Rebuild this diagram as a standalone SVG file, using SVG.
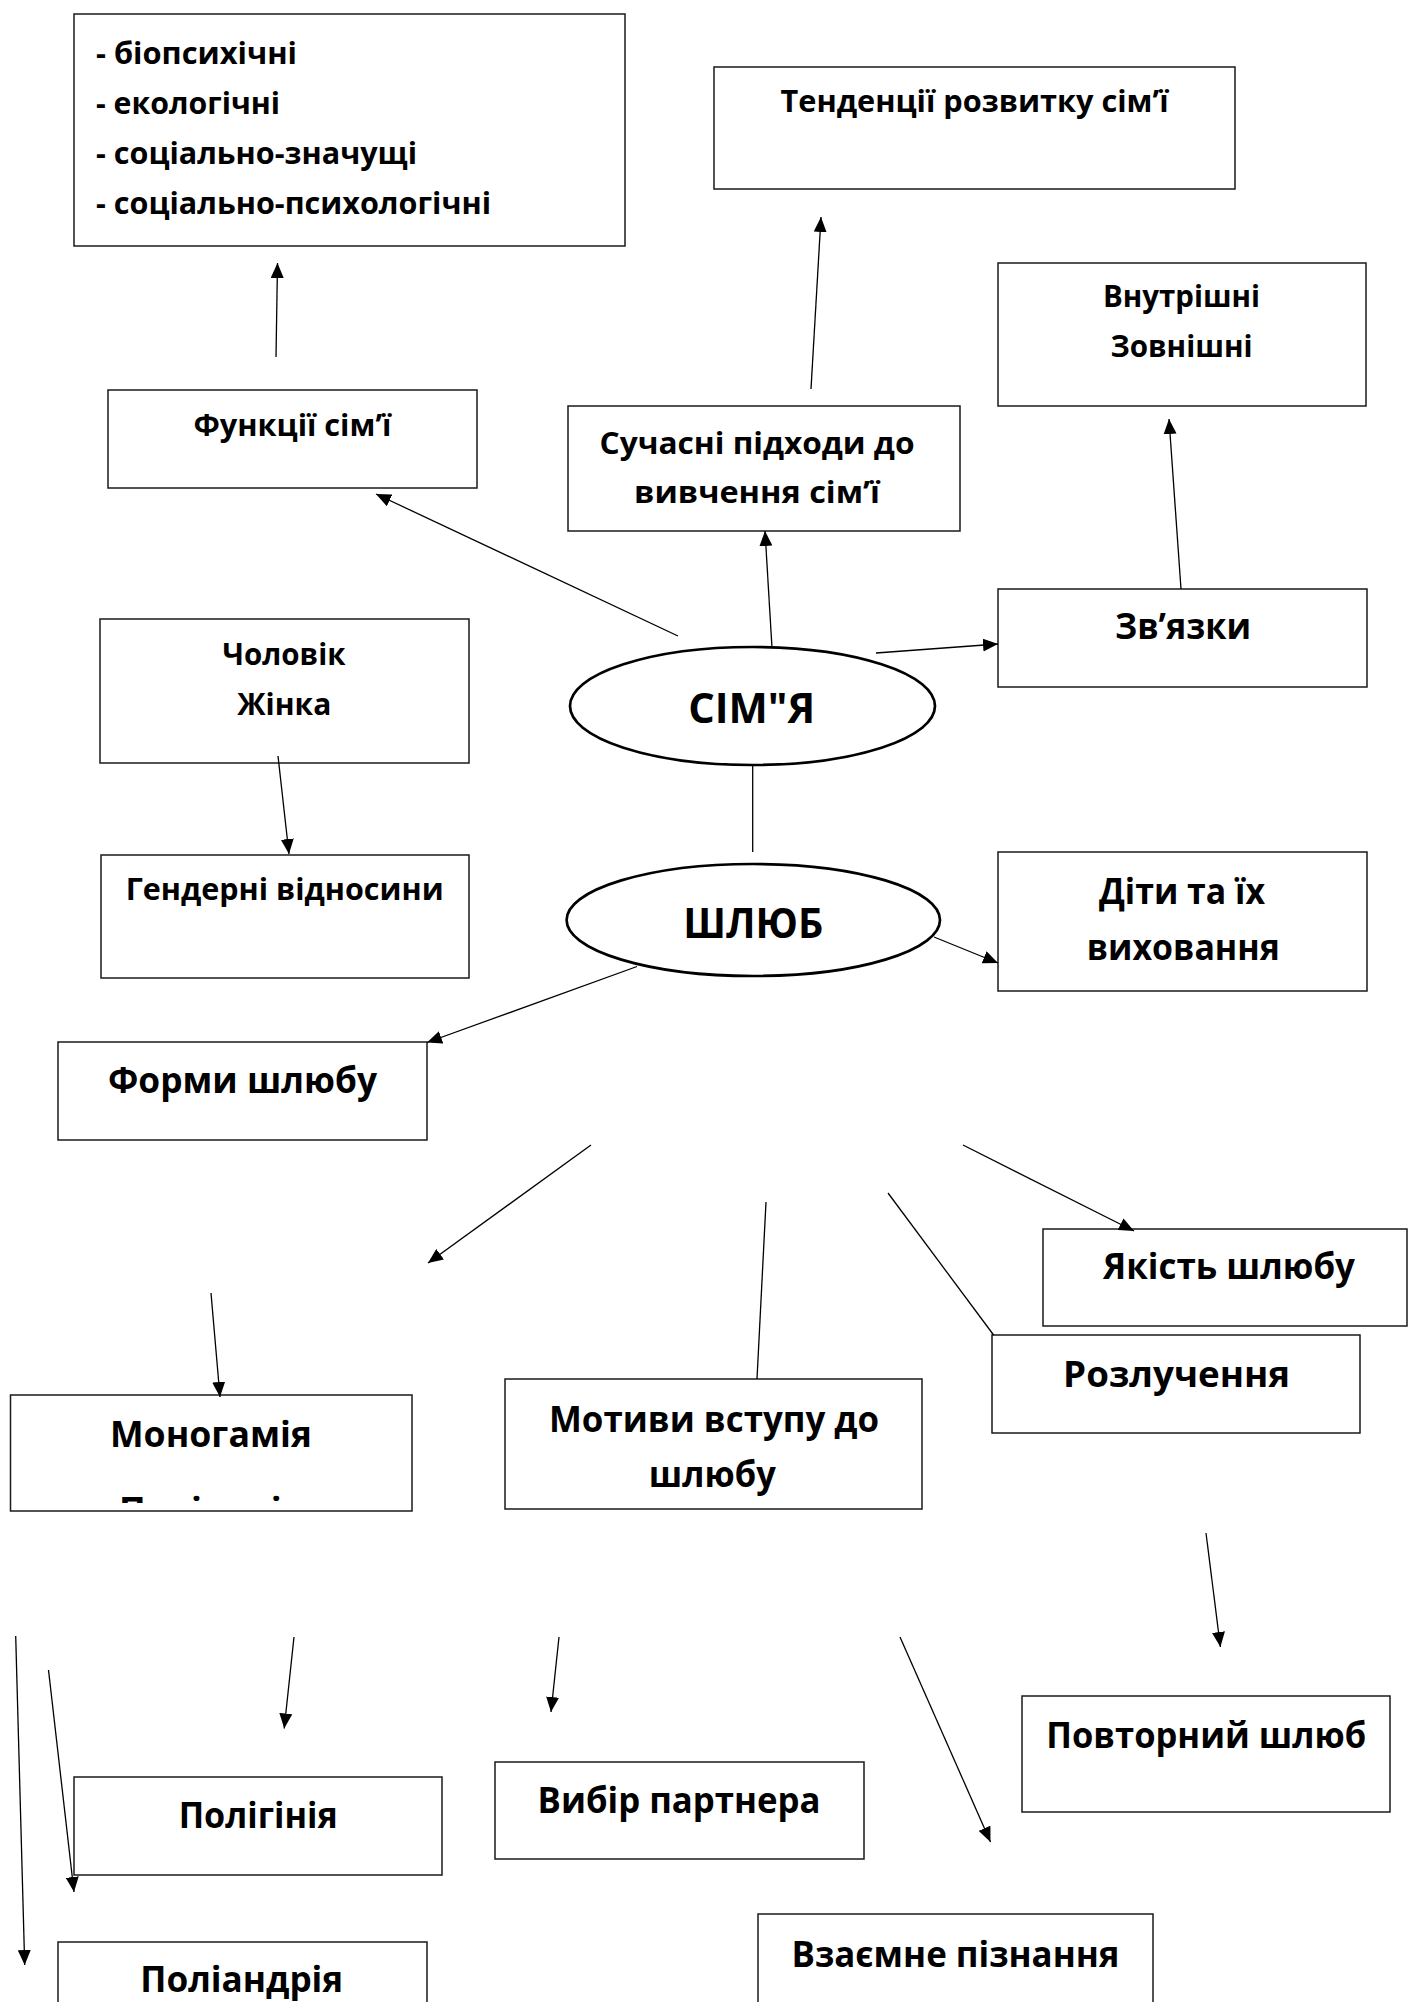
<svg xmlns="http://www.w3.org/2000/svg" width="1408" height="2002" viewBox="0 0 1408 2002">
<style>
.box{fill:#fff;stroke:#1a1a1a;stroke-width:1.5}
.ell{fill:#fff;stroke:#000;stroke-width:2.7}
.c{stroke:#000;stroke-width:1.3;fill:none}
.a{marker-end:url(#arr)}
text{font-family:"Open Sans","Liberation Sans","DejaVu Sans",sans-serif;font-weight:700;fill:#000;text-anchor:middle}
.s{font-size:30px}
.l{font-size:36px}
.e{font-size:42px}
.left{text-anchor:start}
</style>
<defs>
<marker id="arr" markerUnits="userSpaceOnUse" markerWidth="15" markerHeight="13" refX="15" refY="6.5" orient="auto">
<path d="M0,0 L15,6.5 L0,13 Z" fill="#000"/>
</marker>
<clipPath id="clipK"><rect x="10" y="1380" width="402" height="123"/></clipPath>
</defs>
<rect width="1408" height="2002" fill="#fff"/>

<g id="node-types">
<rect class="box" x="74" y="14" width="551" height="232"/>
<text class="s left" x="96" y="64" textLength="201" lengthAdjust="spacingAndGlyphs">- біопсихічні</text>
<text class="s left" x="96" y="114" textLength="184" lengthAdjust="spacingAndGlyphs">- екологічні</text>
<text class="s left" x="96" y="164" textLength="321" lengthAdjust="spacingAndGlyphs">- соціально-значущі</text>
<text class="s left" x="96" y="214" textLength="395" lengthAdjust="spacingAndGlyphs">- соціально-психологічні</text>
</g>
<g id="node-trends">
<rect class="box" x="714" y="67" width="521" height="122"/>
<text class="s" x="974.5" y="112" textLength="388" lengthAdjust="spacingAndGlyphs">Тенденції розвитку сім’ї</text>
</g>
<g id="node-functions">
<rect class="box" x="108" y="390" width="369" height="98"/>
<text class="s" x="292.4" y="436" textLength="198" lengthAdjust="spacingAndGlyphs">Функції сім’ї</text>
</g>
<g id="node-approaches">
<rect class="box" x="568" y="406" width="392" height="125"/>
<text class="s" x="757" y="454" textLength="315" lengthAdjust="spacingAndGlyphs">Сучасні підходи до</text>
<text class="s" x="757" y="503" textLength="246" lengthAdjust="spacingAndGlyphs">вивчення сім’ї</text>
</g>
<g id="node-inner-outer">
<rect class="box" x="998" y="263" width="368" height="143"/>
<text class="s" x="1181.5" y="307" textLength="157" lengthAdjust="spacingAndGlyphs">Внутрішні</text>
<text class="s" x="1181.5" y="357" textLength="142" lengthAdjust="spacingAndGlyphs">Зовнішні</text>
</g>
<g id="node-links">
<rect class="box" x="998" y="589" width="369" height="98"/>
<text class="l" x="1183" y="639" textLength="136" lengthAdjust="spacingAndGlyphs">Зв’язки</text>
</g>
<g id="node-man-woman">
<rect class="box" x="100" y="619" width="369" height="144"/>
<text class="s" x="284" y="665" textLength="123" lengthAdjust="spacingAndGlyphs">Чоловік</text>
<text class="s" x="284.3" y="715" textLength="94" lengthAdjust="spacingAndGlyphs">Жінка</text>
</g>
<g id="node-family">
<ellipse class="ell" cx="752.5" cy="706" rx="182.5" ry="59"/>
<text class="e" x="751.7" y="723" textLength="127" lengthAdjust="spacingAndGlyphs">СІМ"Я</text>
</g>
<g id="node-gender">
<rect class="box" x="101" y="855" width="368" height="123"/>
<text class="s" x="284.7" y="900" textLength="318" lengthAdjust="spacingAndGlyphs">Гендерні відносини</text>
</g>
<g id="node-marriage">
<ellipse class="ell" cx="753.3" cy="920" rx="186.7" ry="56"/>
<text class="e" x="753.3" y="937.7" textLength="140" lengthAdjust="spacingAndGlyphs">ШЛЮБ</text>
</g>
<g id="node-children">
<rect class="box" x="998" y="852" width="369" height="139"/>
<text class="l" x="1182" y="904" textLength="166" lengthAdjust="spacingAndGlyphs">Діти та їх</text>
<text class="l" x="1183.3" y="960" textLength="193" lengthAdjust="spacingAndGlyphs">виховання</text>
</g>
<g id="node-forms">
<rect class="box" x="58" y="1042" width="369" height="98"/>
<text class="l" x="242.5" y="1093" textLength="269" lengthAdjust="spacingAndGlyphs">Форми шлюбу</text>
</g>
<g id="node-quality">
<rect class="box" x="1043" y="1229" width="364" height="97"/>
<text class="l" x="1229" y="1279" textLength="252" lengthAdjust="spacingAndGlyphs">Якість шлюбу</text>
</g>
<g id="node-divorce">
<rect class="box" x="992" y="1335" width="368" height="98"/>
<text class="l" x="1176.6" y="1387" textLength="227" lengthAdjust="spacingAndGlyphs">Розлучення</text>
</g>
<g id="node-monogamy">
<rect class="box" x="10.5" y="1395" width="401.5" height="116"/>
<text class="l" x="211" y="1447" textLength="202" lengthAdjust="spacingAndGlyphs">Моногамія</text>
<text class="l" x="211" y="1523" textLength="184" lengthAdjust="spacingAndGlyphs" clip-path="url(#clipK)">Полігамія</text>
</g>
<g id="node-motives">
<rect class="box" x="505" y="1379" width="417" height="130"/>
<text class="l" x="714" y="1432" textLength="330" lengthAdjust="spacingAndGlyphs">Мотиви вступу до</text>
<text class="l" x="712.3" y="1487" textLength="127" lengthAdjust="spacingAndGlyphs">шлюбу</text>
</g>
<g id="node-remarriage">
<rect class="box" x="1022" y="1696" width="368" height="116"/>
<text class="l" x="1206.3" y="1748" textLength="320" lengthAdjust="spacingAndGlyphs">Повторний шлюб</text>
</g>
<g id="node-choice">
<rect class="box" x="495" y="1762" width="369" height="97"/>
<text class="l" x="679.1" y="1813" textLength="283" lengthAdjust="spacingAndGlyphs">Вибір партнера</text>
</g>
<g id="node-polygyny">
<rect class="box" x="74" y="1777" width="368" height="98"/>
<text class="l" x="258.2" y="1828" textLength="159" lengthAdjust="spacingAndGlyphs">Полігінія</text>
</g>
<g id="node-mutual">
<rect class="box" x="758" y="1914" width="395" height="120"/>
<text class="l" x="955.5" y="1967" textLength="328" lengthAdjust="spacingAndGlyphs">Взаємне пізнання</text>
</g>
<g id="node-polyandry">
<rect class="box" x="58" y="1942" width="369" height="100"/>
<text class="l" x="241.7" y="1992" textLength="203" lengthAdjust="spacingAndGlyphs">Поліандрія</text>
</g>

<g id="connectors">
<line class="c a" x1="678" y1="636" x2="376" y2="494"/>
<line class="c a" x1="276" y1="357" x2="277.5" y2="263"/>
<line class="c a" x1="772" y1="648" x2="765" y2="531"/>
<line class="c a" x1="811" y1="389" x2="821" y2="217"/>
<line class="c a" x1="876" y1="653" x2="998" y2="644"/>
<line class="c a" x1="1181" y1="589" x2="1169" y2="419"/>
<line class="c a" x1="278" y1="756" x2="289" y2="854"/>
<line class="c" x1="752.7" y1="765" x2="752.7" y2="852"/>
<line class="c a" x1="934" y1="937" x2="998" y2="963"/>
<line class="c a" x1="637" y1="966.5" x2="427" y2="1042.5"/>
<line class="c a" x1="591" y1="1145" x2="428" y2="1263"/>
<line class="c a" x1="211" y1="1293" x2="220" y2="1397"/>
<line class="c" x1="766" y1="1202" x2="757" y2="1379"/>
<line class="c" x1="888" y1="1193" x2="993.6" y2="1335"/>
<line class="c a" x1="963" y1="1145" x2="1134" y2="1231"/>
<line class="c a" x1="1206" y1="1533" x2="1220.4" y2="1647"/>
<line class="c a" x1="900" y1="1637" x2="990.5" y2="1842"/>
<line class="c a" x1="559" y1="1637" x2="551" y2="1712"/>
<line class="c a" x1="294" y1="1637" x2="284.2" y2="1728.5"/>
<line class="c a" x1="48.5" y1="1670" x2="74" y2="1892"/>
<line class="c a" x1="15.7" y1="1636" x2="24.7" y2="1965"/>
</g>
</svg>
